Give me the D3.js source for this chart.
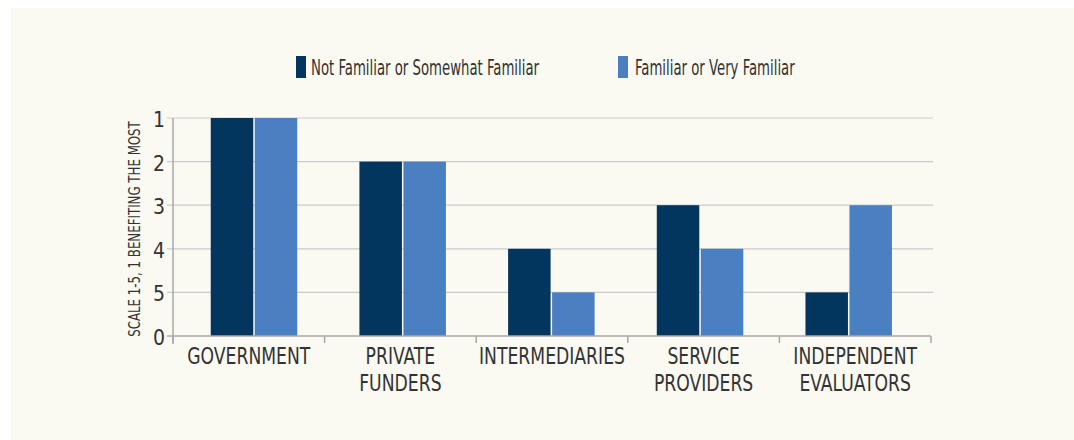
<!DOCTYPE html>
<html>
<head>
<meta charset="utf-8">
<script src="https://cdn.jsdelivr.net/npm/d3@7"></script>
<style>
  body { margin: 0; background: #fff; }
  svg text { font-family: "Liberation Sans Narrow", "DejaVu Sans Condensed", sans-serif; fill: #333; }
</style>
</head>
<body>
<svg id="chart" width="1074" height="440"></svg>
<script>
// ranks, 1 = benefiting the most
const categories = ["GOVERNMENT", "PRIVATE FUNDERS", "INTERMEDIARIES", "SERVICE PROVIDERS", "INDEPENDENT EVALUATORS"];
const catLines = [["GOVERNMENT"], ["PRIVATE", "FUNDERS"], ["INTERMEDIARIES"], ["SERVICE", "PROVIDERS"], ["INDEPENDENT", "EVALUATORS"]];
const notFamiliar = [1, 2, 4, 3, 5];
const familiar = [1, 2, 5, 4, 3];
const seriesNames = ["Not Familiar or Somewhat Familiar", "Familiar or Very Familiar"];
const colors = ["#03365f", "#4a7fc2"];
const tickLabels = ["0", "5", "4", "3", "2", "1"];

const svg = d3.select("#chart");

// squeeze text horizontally (the original uses a condensed face)
function squeeze(sel, k) {
  sel.each(function() {
    const w = this.getComputedTextLength();
    d3.select(this)
      .attr("textLength", w * k)
      .attr("lengthAdjust", "spacingAndGlyphs");
  });
}

svg.append("rect")
  .attr("x", 11).attr("y", 8)
  .attr("width", 1063).attr("height", 432)
  .attr("fill", "#fafaf2");

// rank -> bar height (rank 1 tallest)
const score = r => 6 - r;

const y = d3.scaleLinear().domain([0, 5]).range([336, 118]);
const xAxisBand = d3.scaleBand().domain(categories).range([173, 931]);
const xBars = d3.scaleBand().domain(categories).range([179.6, 923]);

// gridlines
svg.append("g")
  .selectAll("line")
  .data([1, 2, 3, 4, 5])
  .enter()
  .append("line")
  .attr("x1", 167).attr("x2", 933)
  .attr("y1", d => y(d)).attr("y2", d => y(d))
  .attr("stroke", "#cacaca")
  .attr("stroke-width", 1.2);

// y axis
const yAxis = svg.append("g");
yAxis.append("line")
  .attr("x1", 173).attr("x2", 173)
  .attr("y1", y(5)).attr("y2", 344)
  .attr("stroke", "#a8a8a8").attr("stroke-width", 1.5);
yAxis.selectAll("line.tk")
  .data([0])
  .enter()
  .append("line")
  .attr("class", "tk")
  .attr("x1", 167).attr("x2", 173)
  .attr("y1", d => y(d)).attr("y2", d => y(d))
  .attr("stroke", "#a8a8a8").attr("stroke-width", 1.5);
yAxis.selectAll("text")
  .data(d3.range(6))
  .enter()
  .append("text")
  .attr("x", 165)
  .attr("y", d => y(d) + 9)
  .attr("text-anchor", "end")
  .attr("font-size", "21px")
  .text(d => tickLabels[d]);

svg.append("text")
  .attr("transform", "translate(140,229) rotate(-90)")
  .attr("text-anchor", "middle")
  .attr("font-size", "16px")
  .text("SCALE 1-5, 1 BENEFITING THE MOST")
  .call(squeeze, 0.82);

// bars
const barW = 42.5;
const groups = svg.append("g")
  .selectAll("g")
  .data(categories)
  .enter()
  .append("g");

groups.append("rect")
  .attr("x", d => xBars(d) + xBars.bandwidth() / 2 - barW - 0.7)
  .attr("y", (d, i) => y(score(notFamiliar[i])))
  .attr("width", barW)
  .attr("height", (d, i) => y(0) - y(score(notFamiliar[i])))
  .attr("fill", colors[0]);

groups.append("rect")
  .attr("x", d => xBars(d) + xBars.bandwidth() / 2 + 0.8)
  .attr("y", (d, i) => y(score(familiar[i])))
  .attr("width", barW)
  .attr("height", (d, i) => y(0) - y(score(familiar[i])))
  .attr("fill", colors[1]);

// x axis
const xAxis = svg.append("g");
xAxis.append("line")
  .attr("x1", 173).attr("x2", 931)
  .attr("y1", 336).attr("y2", 336)
  .attr("stroke", "#a8a8a8").attr("stroke-width", 1.5);
xAxis.selectAll("line.tk")
  .data(categories.concat(["end"]))
  .enter()
  .append("line")
  .attr("class", "tk")
  .attr("x1", d => d === "end" ? xAxisBand.range()[1] : xAxisBand(d))
  .attr("x2", d => d === "end" ? xAxisBand.range()[1] : xAxisBand(d))
  .attr("y1", 336).attr("y2", 343)
  .attr("stroke", "#a8a8a8").attr("stroke-width", 1.5);

const labelLines = [];
categories.forEach((c, i) => catLines[i].forEach((t, j) => labelLines.push({c, t, j})));
xAxis.selectAll("text")
  .data(labelLines)
  .enter()
  .append("text")
  .attr("x", d => xAxisBand(d.c) + xAxisBand.bandwidth() / 2)
  .attr("y", d => 364 + d.j * 27)
  .attr("text-anchor", "middle")
  .attr("font-size", "22.5px")
  .text(d => d.t)
  .call(squeeze, 0.85);

// legend
const legendX = [296, 618];
const legend = svg.append("g")
  .selectAll("g")
  .data(seriesNames)
  .enter()
  .append("g")
  .attr("transform", (d, i) => `translate(${legendX[i]},56)`);
legend.append("rect")
  .attr("width", 10).attr("height", 22)
  .attr("fill", (d, i) => colors[i]);
legend.append("text")
  .attr("x", (d, i) => i === 0 ? 15 : 17)
  .attr("y", 19)
  .attr("font-size", "20.5px")
  .text(d => d)
  .call(squeeze, 0.72);
</script>
</body>
</html>
